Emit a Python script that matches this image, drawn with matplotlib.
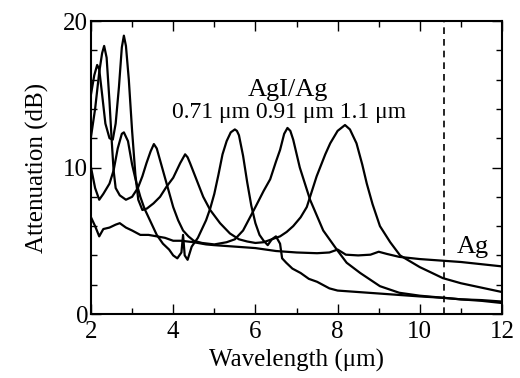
import matplotlib
matplotlib.use("Agg")
import matplotlib.pyplot as plt
from matplotlib.ticker import MultipleLocator

plt.rcParams['font.family'] = ['Liberation Serif', 'DejaVu Serif']

# Ag (bare silver) curve
ag_x = [2.0, 2.1, 2.2, 2.3, 2.45, 2.6, 2.7, 2.85, 3.0, 3.2, 3.4, 3.6, 3.8, 4.0, 4.2, 4.5, 4.8,
        5.0, 5.5, 6.0, 6.5, 7.0, 7.5, 7.8, 8.0, 8.2, 8.5, 8.8, 9.0, 9.2, 9.5, 10.0, 10.5,
        11.0, 11.5, 12.0]
ag_y = [6.6, 6.0, 5.3, 5.8, 5.9, 6.1, 6.2, 5.9, 5.7, 5.4, 5.4, 5.3, 5.2, 5.0, 5.0, 4.9, 4.75,
        4.7, 4.6, 4.5, 4.3, 4.2, 4.15, 4.2, 4.4, 4.05, 4.0, 4.05, 4.25, 4.1, 3.9, 3.75, 3.65,
        3.55, 3.4, 3.25]

# AgI/Ag, AgI thickness 0.71 um
a_x = [2.0, 2.1, 2.2, 2.3, 2.45, 2.55, 2.65, 2.75, 2.8, 2.9, 3.0, 3.1, 3.2, 3.3, 3.45, 3.6,
       3.75, 3.9, 4.0, 4.1, 4.2, 4.24, 4.28, 4.35, 4.45, 4.6, 4.7, 4.8, 4.9, 5.0, 5.1, 5.2,
       5.3, 5.4, 5.5, 5.55, 5.6, 5.7, 5.8, 5.9, 6.0, 6.1, 6.2, 6.3, 6.4, 6.5, 6.6, 6.65,
       6.75, 6.9, 7.1, 7.3, 7.5, 7.8, 8.0, 8.5, 9.0, 9.5, 10.0, 10.6, 11.0, 11.5, 12.0]
a_y = [10.0, 8.6, 7.8, 8.2, 8.9, 9.8, 11.3, 12.3, 12.4, 11.8, 10.2, 9.0, 8.0, 7.2, 6.3, 5.4,
       4.8, 4.4, 4.0, 3.8, 4.2, 5.4, 4.0, 3.7, 4.6, 5.2, 5.8, 6.4, 7.2, 8.2, 9.5, 10.9,
       11.8, 12.4, 12.6, 12.5, 12.2, 10.8, 9.0, 7.4, 6.2, 5.4, 5.0, 4.7, 5.1, 5.3, 4.8, 3.8,
       3.5, 3.1, 2.8, 2.4, 2.2, 1.75, 1.6, 1.5, 1.4, 1.3, 1.2, 1.1, 1.0, 0.9, 0.75]

# AgI/Ag, AgI thickness 0.91 um
b_x = [2.0, 2.1, 2.2, 2.27, 2.32, 2.38, 2.45, 2.5, 2.55, 2.6, 2.7, 2.85, 3.0, 3.14, 3.25,
       3.35, 3.45, 3.53, 3.6, 3.68, 3.84, 4.0, 4.12, 4.24, 4.37, 4.5, 4.7, 5.0, 5.3, 5.5,
       5.7, 6.0, 6.2, 6.36, 6.5, 6.6, 6.7, 6.78, 6.85, 6.92, 7.08, 7.33, 7.65, 7.98, 8.22,
       8.55, 9.03, 9.5, 10.0, 10.6, 11.0, 11.5, 12.0]
b_y = [12.1, 14.0, 16.5, 17.8, 18.3, 17.5, 14.5, 12.0, 9.8, 8.6, 8.1, 7.8, 8.0, 8.6, 9.4,
       10.3, 11.1, 11.6, 11.3, 10.5, 8.9, 7.3, 6.4, 5.7, 5.3, 5.0, 4.85, 4.75, 4.9, 5.1,
       5.7, 7.3, 8.4, 9.2, 10.4, 11.2, 12.3, 12.7, 12.5, 11.9, 10.0, 7.8, 5.7, 4.4, 3.5,
       2.8, 1.9, 1.45, 1.25, 1.1, 1.0, 0.95, 0.85]

# AgI/Ag, AgI thickness 1.1 um
c_x = [2.0, 2.08, 2.15, 2.2, 2.27, 2.35, 2.45, 2.53, 2.6, 2.68, 2.75, 2.8, 2.85, 2.92, 3.0,
       3.08, 3.15, 3.25, 3.36, 3.52, 3.68, 3.84, 4.0, 4.17, 4.29, 4.35, 4.41, 4.57, 4.73,
       4.9, 5.14, 5.38, 5.6, 5.8, 6.0, 6.2, 6.4, 6.6, 6.76, 6.92, 7.1, 7.25, 7.49, 7.7,
       7.82, 8.0, 8.18, 8.3, 8.46, 8.6, 8.71, 8.85, 9.03, 9.28, 9.52, 9.76, 10.0, 10.3,
       10.56, 11.0, 11.5, 12.0]
c_y = [15.0, 16.3, 17.0, 16.7, 15.0, 13.0, 12.0, 11.9, 13.0, 15.5, 18.2, 19.0, 18.3, 16.0,
       12.5, 9.5, 7.8, 7.1, 7.2, 7.55, 8.0, 8.7, 9.3, 10.3, 10.9, 10.7, 10.3, 9.15, 8.0,
       7.1, 6.2, 5.5, 5.1, 4.95, 4.85, 4.9, 5.1, 5.3, 5.6, 6.0, 6.6, 7.3, 9.4, 10.9,
       11.65, 12.5, 12.9, 12.6, 11.65, 10.2, 8.9, 7.5, 6.0, 4.9, 4.0, 3.6, 3.2, 2.8,
       2.45, 2.1, 1.8, 1.5]

laser_line = 10.6
x_ticks = [2, 4, 6, 8, 10, 12]
y_ticks = [0, 10, 20]

fig = plt.figure(figsize=(5.2, 3.78), dpi=100)
ax = fig.add_axes([0.175, 0.1693, 0.7904, 0.7751])

for xs, ys in [(ag_x, ag_y), (a_x, a_y), (b_x, b_y), (c_x, c_y)]:
    ax.plot(xs, ys, color='black', lw=1.6)

ax.axvline(laser_line, color='black', lw=1.2, ls=(0, (4, 3)))

ax.set_xlim(2, 12)
ax.set_ylim(0, 20)
ax.set_xticks(x_ticks)
ax.set_yticks(y_ticks)
ax.xaxis.set_minor_locator(MultipleLocator(1))
ax.yaxis.set_minor_locator(MultipleLocator(2))
ax.tick_params(which='both', direction='in', top=True, right=True, width=1.0,
               labelsize=18)
ax.tick_params(axis='x', pad=5)
ax.tick_params(axis='y', pad=2)
ax.tick_params(which='major', length=7)
ax.tick_params(which='minor', length=4)
for s in ax.spines.values():
    s.set_linewidth(1.5)

ax.set_xlabel('Wavelength (μm)', fontsize=18, labelpad=4)
ax.set_ylabel('Attenuation (dB)', fontsize=18, labelpad=10)

ax.text(6.8, 15.3, 'AgI/Ag', fontsize=19, ha='center', va='center')
ax.text(6.82, 13.75, '0.71 μm 0.91 μm 1.1 μm', fontsize=17, ha='center', va='center')
ax.text(11.3, 4.6, 'Ag', fontsize=19, ha='center', va='center')

fig.savefig('out.png', dpi=100)
